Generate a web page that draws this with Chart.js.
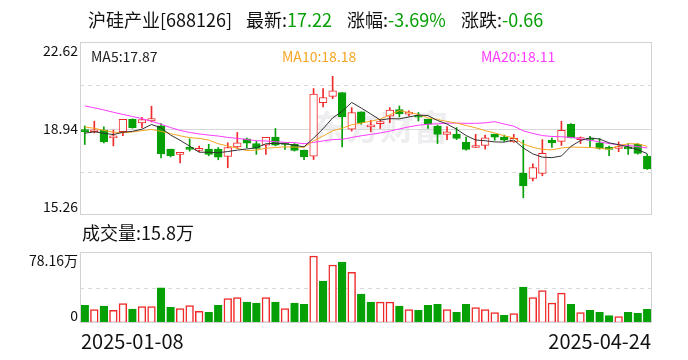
<!DOCTYPE html>
<html>
<head>
<meta charset="utf-8">
<script src="https://cdn.jsdelivr.net/npm/chart.js@4.4.1/dist/chart.umd.min.js"></script>
<style>
  body { margin: 0; background: #fff; width: 688px; height: 360px; overflow: hidden; position: relative; }
  #kline { position: absolute; left: 0; top: 0; }
  #vol { position: absolute; left: 0; top: 215px; }
  .t { position: absolute; top: 6px; font: 18px "Noto Sans CJK SC", "Noto Sans", sans-serif; color: #111; white-space: pre; }
  .g { color: #05a005; }
</style>
</head>
<body>
<canvas id="kline" width="688" height="220"></canvas>
<canvas id="vol" width="688" height="145"></canvas>
<span class="t" style="left:88px">沪硅产业[688126]</span>
<span class="t" style="left:246px">最新:<span class="g">17.22</span></span>
<span class="t" style="left:347px">涨幅:<span class="g">-3.69%</span></span>
<span class="t" style="left:461px">涨跌:<span class="g">-0.66</span></span>
<script>
// 60 trading days, only first and last are shown
var dates = [
  "2025-01-08","2025-01-09","2025-01-10","2025-01-13","2025-01-14","2025-01-15","2025-01-16","2025-01-17","2025-01-20","2025-01-21",
  "2025-01-22","2025-01-23","2025-01-24","2025-01-27","2025-02-05","2025-02-06","2025-02-07","2025-02-10","2025-02-11","2025-02-12",
  "2025-02-13","2025-02-14","2025-02-17","2025-02-18","2025-02-19","2025-02-20","2025-02-21","2025-02-24","2025-02-25","2025-02-26",
  "2025-02-27","2025-02-28","2025-03-03","2025-03-04","2025-03-05","2025-03-06","2025-03-07","2025-03-10","2025-03-11","2025-03-12",
  "2025-03-13","2025-03-14","2025-03-17","2025-03-18","2025-03-19","2025-03-20","2025-03-21","2025-03-24","2025-03-25","2025-03-26",
  "2025-03-27","2025-03-28","2025-03-31","2025-04-16","2025-04-17","2025-04-18","2025-04-21","2025-04-22","2025-04-23","2025-04-24"
];
var opens = [
  18.84,18.80,18.87,18.54,18.80,19.33,19.18,19.26,19.05,18.06,
  17.84,18.07,18.01,18.06,18.06,17.75,18.16,18.50,18.30,18.23,
  18.56,18.30,18.27,18.02,17.76,20.04,20.31,20.47,18.91,19.65,
  19.01,19.15,19.46,19.75,19.55,19.46,19.33,19.04,18.69,18.69,
  18.35,18.13,18.22,18.70,18.57,18.37,17.04,16.82,17.03,18.44,
  18.39,19.12,18.47,18.52,18.33,18.09,18.09,18.12,18.27,17.76
];
var highs = [
  19.05,19.25,19.01,18.87,19.33,19.35,19.41,19.89,19.15,18.06,
  17.92,18.50,18.19,18.27,18.13,18.33,18.77,18.53,18.40,18.56,
  18.94,18.33,18.30,18.02,20.64,20.64,21.16,20.47,19.83,19.65,
  19.29,19.33,19.83,19.90,19.69,19.62,19.33,19.08,19.02,18.98,
  18.58,18.69,18.66,18.70,18.66,18.69,18.44,17.44,18.47,18.53,
  19.25,19.15,18.58,18.61,18.52,18.19,18.37,18.30,18.30,17.84
];
var lows = [
  18.26,18.75,18.33,18.20,18.63,18.95,18.97,19.22,17.69,17.73,
  17.48,17.98,17.95,17.78,17.61,17.27,18.09,18.12,17.84,17.84,
  18.20,18.05,17.98,17.61,17.62,19.86,20.21,18.16,18.83,19.12,
  18.80,18.94,19.19,19.43,19.48,19.26,18.94,18.30,18.47,18.47,
  18.02,18.13,18.06,18.44,18.39,18.35,15.99,16.71,16.93,18.13,
  18.22,18.54,18.30,18.16,18.06,17.78,17.95,17.84,17.85,17.20
];
var closes = [
  18.81,18.83,18.37,18.58,19.33,18.97,19.32,19.36,17.86,17.78,
  17.90,18.05,18.06,17.84,17.72,18.13,18.33,18.32,18.09,18.56,
  18.23,18.26,18.01,17.73,20.40,20.26,20.54,19.43,19.62,19.19,
  19.04,19.22,19.72,19.56,19.62,19.42,19.12,18.69,18.80,18.52,
  18.05,18.19,18.54,18.57,18.44,18.52,16.50,17.28,17.88,18.33,
  18.86,18.54,18.55,18.44,18.09,18.05,18.13,18.07,17.88,17.22
];
var ma5 = [
  18.74,18.80,18.74,18.68,18.78,18.82,18.91,19.11,18.97,18.66,
  18.44,18.19,17.93,17.93,17.91,17.96,18.02,18.07,18.12,18.29,
  18.31,18.29,18.23,18.16,18.53,18.93,19.39,19.67,20.05,19.81,
  19.56,19.30,19.36,19.35,19.43,19.51,19.49,19.28,19.13,18.91,
  18.64,18.45,18.42,18.37,18.36,18.45,18.11,17.86,17.72,17.70,
  17.77,18.18,18.43,18.54,18.49,18.33,18.25,18.16,18.04,17.87
];
var ma10 = [
  19.00,18.95,18.86,18.78,18.76,18.79,18.85,18.90,18.82,18.72,
  18.63,18.55,18.52,18.45,18.29,18.20,18.10,18.00,18.02,18.10,
  18.13,18.16,18.15,18.14,18.41,18.62,18.84,18.95,19.10,19.17,
  19.25,19.34,19.52,19.70,19.62,19.54,19.39,19.32,19.24,19.17,
  19.07,18.97,18.85,18.75,18.63,18.54,18.28,18.14,18.05,18.03,
  18.11,18.15,18.14,18.13,18.10,18.05,18.21,18.29,18.29,18.18
];
var ma20 = [
  19.90,19.82,19.73,19.63,19.54,19.45,19.36,19.25,19.12,18.98,
  18.86,18.77,18.71,18.66,18.62,18.56,18.52,18.47,18.42,18.41,
  18.38,18.35,18.34,18.29,18.35,18.41,18.47,18.48,18.56,18.63,
  18.69,18.75,18.83,18.92,19.01,19.08,19.12,19.14,19.17,19.17,
  19.16,19.16,19.18,19.23,19.13,19.04,18.84,18.73,18.64,18.60,
  18.59,18.56,18.50,18.44,18.37,18.30,18.25,18.22,18.17,18.11
];
// volume in 万
var volumes = [
  20.7,15.6,19.6,14.9,22.6,16.1,19.1,19.1,41.0,18.4,
  16.8,20.3,13.7,12.5,20.7,28.5,29.7,24.3,23.1,29.7,
  24.3,16.8,23.1,21.9,78.16,48.9,67.6,71.1,59.0,33.6,
  24.3,24.3,24.3,19.6,15.6,14.9,20.7,21.9,15.6,12.5,
  21.9,17.9,15.6,12.1,9.0,10.9,41.8,29.7,37.9,23.1,
  34.8,21.9,12.1,14.9,12.5,8.6,7.4,12.5,11.4,15.8
];
var preClose = 18.95; // close before the first bar
var priceTicks = [15.26, 17.10, 18.94, 20.78, 22.62];
var volMax = 82.8;

var RED = "#f02a2a";
var GREEN = "#05a005";
var FONT = '"Noto Sans CJK SC", "Noto Sans", sans-serif';

var upCandle = closes.map(function (c, i) { return c >= opens[i]; });
var upVol = closes.map(function (c, i) { return c >= (i ? closes[i - 1] : preClose); });

function hline(ctx, a, py, dash, color) {
  ctx.save();
  ctx.strokeStyle = color;
  ctx.lineWidth = 1;
  ctx.setLineDash(dash);
  ctx.beginPath();
  ctx.moveTo(a.left, Math.round(py) + 0.5);
  ctx.lineTo(a.right, Math.round(py) + 0.5);
  ctx.stroke();
  ctx.restore();
}

var priceDecor = {
  id: "priceDecor",
  beforeDatasetsDraw: function (chart) {
    var ctx = chart.ctx, a = chart.chartArea, y = chart.scales.y;
    // watermark
    ctx.save();
    ctx.font = "bold 34px " + FONT;
    ctx.fillStyle = "rgba(200,200,210,0.3)";
    ctx.textBaseline = "middle";
    ctx.fillText("东方财富", 312, 127);
    ctx.restore();
    hline(ctx, a, y.getPixelForValue(priceTicks[1]), [4, 4], "#d8d8d8");
    hline(ctx, a, y.getPixelForValue(priceTicks[2]), [], "#d8d8d8");
    hline(ctx, a, y.getPixelForValue(priceTicks[3]), [4, 4], "#d8d8d8");
  },
  afterDraw: function (chart) {
    var ctx = chart.ctx, a = chart.chartArea, y = chart.scales.y;
    ctx.save();
    ctx.strokeStyle = "#d2d2d6";
    ctx.lineWidth = 1;
    ctx.strokeRect(a.left + 0.5, a.top + 0.5, a.width - 1, a.height - 1);
    ctx.font = "14px " + FONT;
    ctx.fillStyle = "#111";
    ctx.textAlign = "right";
    ctx.textBaseline = "top";
    ctx.fillText(priceTicks[4].toFixed(2), 78, y.getPixelForValue(priceTicks[4]) + 2);
    ctx.textBaseline = "middle";
    ctx.fillText(priceTicks[2].toFixed(2), 78, y.getPixelForValue(priceTicks[2]));
    ctx.textBaseline = "bottom";
    ctx.fillText(priceTicks[0].toFixed(2), 78, y.getPixelForValue(priceTicks[0]) - 1);
    ctx.textAlign = "left";
    ctx.textBaseline = "middle";
    ctx.fillStyle = "#222";
    ctx.fillText("MA5:" + ma5[ma5.length - 1].toFixed(2), 91, a.top + 15);
    ctx.fillStyle = "#f5a623";
    ctx.fillText("MA10:" + ma10[ma10.length - 1].toFixed(2), 282, a.top + 15);
    ctx.fillStyle = "#ff3cff";
    ctx.fillText("MA20:" + ma20[ma20.length - 1].toFixed(2), 481, a.top + 15);
    ctx.restore();
  }
};

var volDecor = {
  id: "volDecor",
  beforeDatasetsDraw: function (chart) {
    var a = chart.chartArea, y = chart.scales.y;
    hline(chart.ctx, a, y.getPixelForValue(volMax / 2), [4, 4], "#d8d8d8");
  },
  afterDraw: function (chart) {
    var ctx = chart.ctx, a = chart.chartArea;
    ctx.save();
    ctx.strokeStyle = "#d2d2d6";
    ctx.lineWidth = 1;
    ctx.strokeRect(a.left + 0.5, a.top + 0.5, a.width - 1, a.height - 1);
    ctx.fillStyle = "#111";
    ctx.font = "18px " + FONT;
    ctx.textBaseline = "middle";
    ctx.textAlign = "left";
    ctx.fillText("成交量:" + volumes[volumes.length - 1] + "万", 82, a.top - 19);
    ctx.font = "14px " + FONT;
    ctx.textAlign = "right";
    ctx.textBaseline = "top";
    ctx.fillText(Math.max.apply(null, volumes).toFixed(2) + "万", 78, a.top + 2);
    ctx.textBaseline = "bottom";
    ctx.fillText("0", 78, a.bottom);
    ctx.font = "20px " + FONT;
    ctx.textBaseline = "middle";
    ctx.textAlign = "left";
    ctx.fillText(dates[0], a.left + 1, a.bottom + 18);
    ctx.textAlign = "right";
    ctx.fillText(dates[dates.length - 1], a.right - 1, a.bottom + 18);
    ctx.restore();
  }
};

function maLine(label, data, color) {
  return { type: "line", label: label, data: data, borderColor: color, borderWidth: 1,
    pointRadius: 0, tension: 0, fill: false, order: 0 };
}

new Chart(document.getElementById("kline"), {
  type: "bar",
  data: {
    labels: dates,
    datasets: [
      maLine("MA5", ma5, "#333"),
      maLine("MA10", ma10, "#f5a623"),
      maLine("MA20", ma20, "#ff3cff"),
      {
        label: "body",
        data: opens.map(function (o, i) { return [o, closes[i]]; }),
        backgroundColor: upCandle.map(function (u) { return u ? "#fff" : GREEN; }),
        borderColor: upCandle.map(function (u) { return u ? RED : GREEN; }),
        borderWidth: 1, borderSkipped: false, barThickness: 7.7, minBarLength: 2,
        grouped: false, order: 1
      },
      {
        label: "wick",
        data: lows.map(function (l, i) { return [l, highs[i]]; }),
        backgroundColor: upCandle.map(function (u) { return u ? RED : GREEN; }),
        borderWidth: 0, barThickness: 1, grouped: false, order: 2
      }
    ]
  },
  options: {
    responsive: false, animation: false, devicePixelRatio: 1,
    layout: { padding: { left: 80, right: 36, top: 42, bottom: 5 } },
    plugins: { legend: { display: false }, tooltip: { enabled: false } },
    scales: {
      x: { display: false },
      y: { display: false, min: priceTicks[0], max: priceTicks[4] }
    }
  },
  plugins: [priceDecor]
});

new Chart(document.getElementById("vol"), {
  type: "bar",
  data: {
    labels: dates,
    datasets: [{
      label: "成交量",
      data: volumes,
      backgroundColor: upVol.map(function (u) { return u ? "#fff" : GREEN; }),
      borderColor: upVol.map(function (u) { return u ? RED : GREEN; }),
      borderWidth: 1.5, borderSkipped: false, barThickness: 7.7
    }]
  },
  options: {
    responsive: false, animation: false, devicePixelRatio: 1,
    layout: { padding: { left: 80, right: 36, top: 37, bottom: 37 } },
    plugins: { legend: { display: false }, tooltip: { enabled: false } },
    scales: {
      x: { display: false },
      y: { display: false, min: 0, max: volMax }
    }
  },
  plugins: [volDecor]
});
</script>
</body>
</html>
